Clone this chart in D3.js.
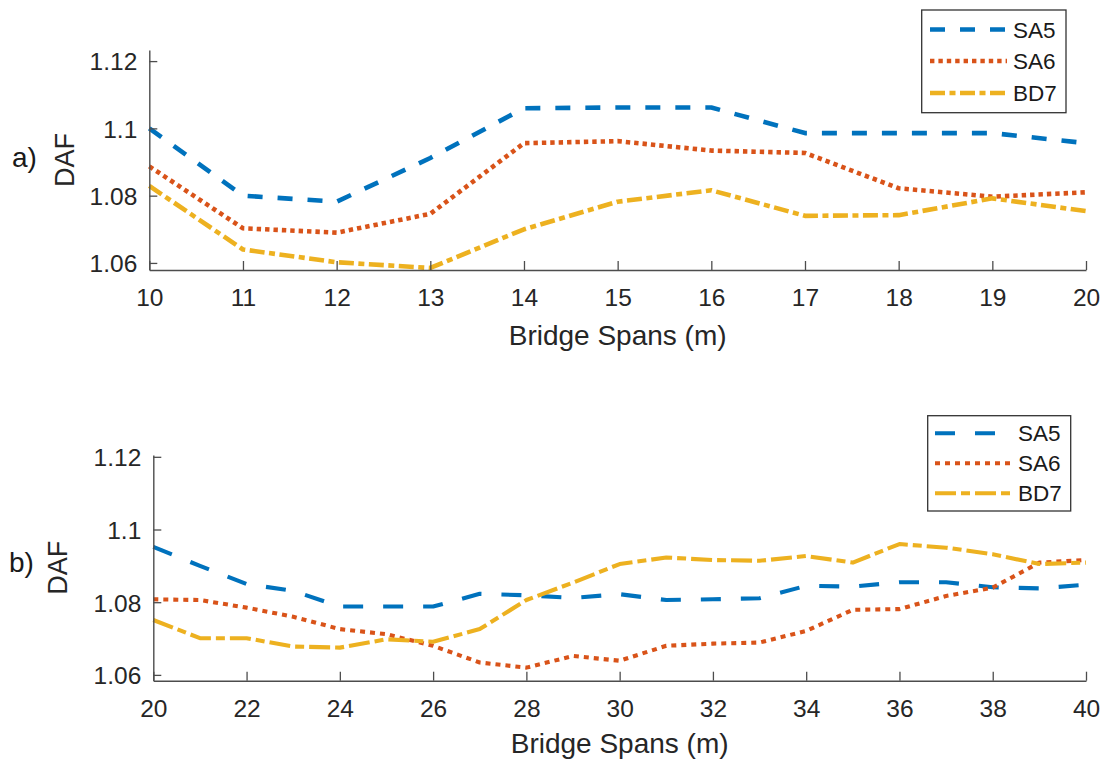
<!DOCTYPE html>
<html>
<head>
<meta charset="utf-8">
<script src="https://cdn.jsdelivr.net/npm/d3@7"></script>
<style>
  html, body { margin: 0; padding: 0; background: #fff; }
  svg { display: block; font-family: "Liberation Sans", Arial, Helvetica, sans-serif; }
</style>
</head>
<body>
<svg id="chart" width="1108" height="762"></svg>
<script>
// Panel a): spans 10–20 m
const spansA = [10, 11, 12, 13, 14, 15, 16, 17, 18, 19, 20];
const sa5A = [1.1000, 1.0800, 1.0782, 1.0912, 1.1060, 1.1062, 1.1062, 1.0986, 1.0986, 1.0986, 1.0956];
const sa6A = [1.0887, 1.0703, 1.0690, 1.0746, 1.0956, 1.0962, 1.0934, 1.0927, 1.0822, 1.0797, 1.0810];
const bd7A = [1.0829, 1.0640, 1.0602, 1.0585, 1.0700, 1.0782, 1.0816, 1.0740, 1.0742, 1.0792, 1.0754];

// Panel b): spans 20–40 m
const spansB = [20, 21, 22, 23, 24, 25, 26, 27, 28, 29, 30, 31, 32, 33, 34, 35, 36, 37, 38, 39, 40];
const sa5B = [1.0952, 1.0900, 1.0850, 1.0831, 1.0788, 1.0788, 1.0788, 1.0823, 1.0819, 1.0812, 1.0822, 1.0806, 1.0808, 1.0811,
              1.0845, 1.0843, 1.0855, 1.0855, 1.0841, 1.0838, 1.0848];
const sa6B = [1.0808, 1.0806, 1.0785, 1.0760, 1.0726, 1.0712, 1.0680, 1.0634, 1.0620, 1.0652, 1.0639, 1.0680, 1.0686, 1.0689,
              1.0721, 1.0779, 1.0781, 1.0817, 1.0840, 1.0909, 1.0916];
const bd7B = [1.0751, 1.0701, 1.0701, 1.0678, 1.0675, 1.0698, 1.0691, 1.0726, 1.0806, 1.0854, 1.0905, 1.0923, 1.0916, 1.0914,
              1.0927, 1.0909, 1.0960, 1.0950, 1.0932, 1.0905, 1.0909];

const seriesNames = ["SA5", "SA6", "BD7"];
const yTicks = [1.06, 1.08, 1.1, 1.12];
const xTicksA = [10, 11, 12, 13, 14, 15, 16, 17, 18, 19, 20];
const xTicksB = [20, 22, 24, 26, 28, 30, 32, 34, 36, 38, 40];
const xLabel = "Bridge Spans (m)";
const yLabel = "DAF";

const colors = ["#0072BD", "#D95319", "#EDB120"];
const svg = d3.select("#chart");

// panel geometry and line styling
const panels = [
  {
    tag: "a)", spans: spansA, values: [sa5A, sa6A, bd7A], xTicks: xTicksA,
    xDomain: [10, 20], yDomain: [1.0579, 1.1233],
    left: 149.3, right: 1086, top: 50, bottom: 270,
    lineWidth: 4.6,
    dashes: ["15,15", "4.4,4", "15,4.5,6,4.5"],
    legend: { x0: 921.7, y0: 10, x1: 1066, y1: 112.7, lx0: 930, lx1: 1007, tx: 1013, rows: [29.5, 61, 93] },
    xLabelY: 345, tagPos: [12, 157], yLabelX: 64
  },
  {
    tag: "b)", spans: spansB, values: [sa5B, sa6B, bd7B], xTicks: xTicksB,
    xDomain: [20, 40], yDomain: [1.0584, 1.1205],
    left: 153.3, right: 1086, top: 455, bottom: 680.7,
    lineWidth: 4.1,
    dashes: ["20,20", "5,5", "21,5,9,5"],
    legend: { x0: 927.7, y0: 415.7, x1: 1070.7, y1: 511, lx0: 935, lx1: 1010, tx: 1018, rows: [433.3, 463.3, 493.3] },
    xLabelY: 752.5, tagPos: [9, 562], yLabelX: 57.5
  }
];

const fmt = v => String(+v.toFixed(2));

panels.forEach(p => {
  const x = d3.scaleLinear().domain(p.xDomain).range([p.left, p.right]);
  const y = d3.scaleLinear().domain(p.yDomain).range([p.bottom, p.top]);
  const g = svg.append("g");

  // data lines
  const line = d3.line().x(d => x(d[0])).y(d => y(d[1]));
  p.values.forEach((vals, i) => {
    g.append("path")
      .datum(p.spans.map((s, k) => [s, vals[k]]))
      .attr("d", line)
      .attr("fill", "none")
      .attr("stroke", colors[i])
      .attr("stroke-width", p.lineWidth)
      .attr("stroke-dasharray", p.dashes[i])
      .attr("stroke-linejoin", "round");
  });

  // axes with inward ticks, no box
  const xAxis = d3.axisBottom(x).tickValues(p.xTicks).tickFormat(d3.format("d"))
    .tickSizeInner(-9).tickSizeOuter(0).tickPadding(19);
  const yAxis = d3.axisLeft(y).tickValues(yTicks).tickFormat(fmt)
    .tickSizeInner(-8).tickSizeOuter(0).tickPadding(12);

  const gx = g.append("g").attr("transform", `translate(0,${p.bottom})`).call(xAxis);
  const gy = g.append("g").attr("transform", `translate(${p.left},0)`).call(yAxis);
  [gx, gy].forEach(ax => {
    ax.selectAll("path.domain").attr("stroke", "#4d4d4d").attr("stroke-width", 1.4);
    ax.selectAll(".tick line").attr("stroke", "#4d4d4d").attr("stroke-width", 1.3);
    ax.selectAll(".tick text").attr("fill", "#262626").style("font-size", "24.5px")
      .style("font-family", "'Liberation Sans', Arial, sans-serif");
  });
  gy.selectAll(".tick text").attr("dy", "0.36em");

  // axis titles
  g.append("text")
    .attr("x", (p.left + p.right) / 2).attr("y", p.xLabelY)
    .attr("text-anchor", "middle").attr("fill", "#262626")
    .style("font-size", "28px").text(xLabel);
  g.append("text")
    .attr("transform", `translate(${p.yLabelX},${(p.top + p.bottom) / 2}) rotate(-90)`)
    .attr("text-anchor", "middle").attr("dy", "0.36em").attr("fill", "#262626")
    .style("font-size", "27px").text(yLabel);
  g.append("text")
    .attr("x", p.tagPos[0]).attr("y", p.tagPos[1]).attr("dy", "0.36em")
    .attr("fill", "#1a1a1a").style("font-size", "28px").text(p.tag);

  // legend
  const L = p.legend;
  const lg = g.append("g");
  lg.append("rect")
    .attr("x", L.x0).attr("y", L.y0).attr("width", L.x1 - L.x0).attr("height", L.y1 - L.y0)
    .attr("fill", "#fff").attr("stroke", "#333").attr("stroke-width", 1.3);
  seriesNames.forEach((name, i) => {
    lg.append("line")
      .attr("x1", L.lx0).attr("x2", L.lx1).attr("y1", L.rows[i]).attr("y2", L.rows[i])
      .attr("stroke", colors[i]).attr("stroke-width", p.lineWidth)
      .attr("stroke-dasharray", p.dashes[i]);
    lg.append("text")
      .attr("x", L.tx).attr("y", L.rows[i]).attr("dy", "0.36em")
      .attr("fill", "#1a1a1a").style("font-size", "22.5px").text(name);
  });
});
</script>
</body>
</html>
